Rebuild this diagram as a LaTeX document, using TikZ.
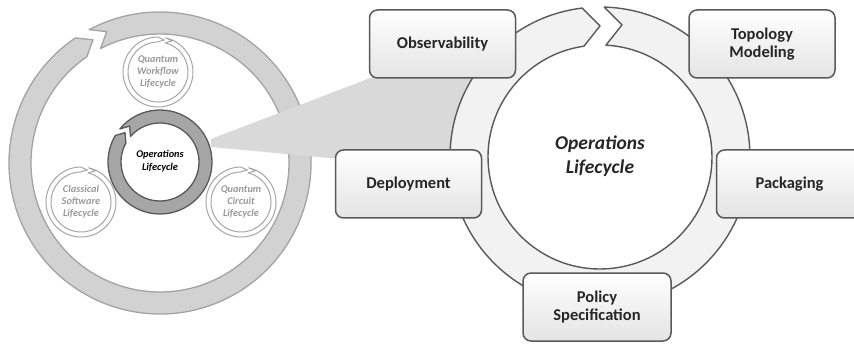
\documentclass[tikz,border=0pt]{standalone}
\usepackage{fontspec}
\setmainfont{Carlito}
\definecolor{ringL}{HTML}{D2D2D2}
\definecolor{ringLd}{HTML}{A3A3A3}
\definecolor{wedgec}{HTML}{D9D9D9}
\definecolor{darkring}{HTML}{A6A6A6}
\definecolor{darkedge}{HTML}{595959}
\definecolor{ringR}{HTML}{F2F2F2}
\definecolor{smalledge}{HTML}{A6A6A6}
\definecolor{boxbot}{HTML}{E4E4E4}
\definecolor{txt}{HTML}{262626}
\definecolor{graytxt}{HTML}{999999}
\newcommand{\cycring}[7]{% #1 center, #2 rot, #3 Rout, #4 Rin, #5 half gap, #6 chevron depth, #7 style
 \begin{scope}[shift={#1}, rotate=#2]
  \pgfmathsetmacro\cAto{90-asin(#5/#3)}
  \pgfmathsetmacro\cAti{90-asin(#5/#4)}
  \pgfmathsetmacro\cAho{90+asin(#5/#3)-360}
  \pgfmathsetmacro\cAhi{90+asin(#5/#4)-360}
  \pgfmathsetmacro\cRmid{(#3+#4)/2}
  \pgfmathsetmacro\cTip{-#5+#6}
  \pgfmathsetmacro\cNotch{#5+#6}
  \path[#7] (\cAto:#3) arc[start angle=\cAto, end angle=\cAho, radius=#3pt]
    -- (\cTip,\cRmid) -- (\cAhi:#4)
    arc[start angle=\cAhi, end angle=\cAti, radius=#4pt]
    -- (\cNotch,\cRmid) -- cycle;
 \end{scope}}
\tikzset{
  bigleft/.style={fill=ringL, draw=ringLd, line width=1.3pt, line join=round},
  darkcyc/.style={fill=darkring, draw=darkedge, line width=1.3pt, line join=round},
  smallcyc/.style={fill=white, draw=smalledge, line width=1pt, line join=round},
  bigright/.style={fill=ringR, draw=darkedge, line width=1.4pt, line join=round},
  stepbox/.style={rounded corners=8pt, draw=darkedge, line width=1.5pt,
    top color=white, bottom color=boxbot, minimum width=146pt, minimum height=68pt,
    align=center, text=txt, font=\fontsize{16.5}{18}\selectfont\bfseries},
  smalltxt/.style={align=center, text=graytxt, font=\fontsize{10.3}{12}\selectfont\bfseries\itshape},
}
\begin{document}
\begin{tikzpicture}[x=1pt,y=1pt]
\useasboundingbox (0,0) rectangle (854,343);
\clip (0,0) rectangle (854,343);
% left big ring
\cycring{(160,180)}{31}{151}{129}{8}{14}{bigleft}
% wedge
\fill[wedgec] (211,204) -- (480,307) -- (470,172) -- (211,196) -- cycle;
% small rings
\cycring{(160,181)}{55}{52}{39}{4}{8}{darkcyc}
\cycring{(158,271)}{-6}{35}{30}{4}{7}{smallcyc}
\cycring{(81,141)}{-6}{35}{30}{4}{7}{smallcyc}
\cycring{(241,141)}{-6}{35}{30}{4}{7}{smallcyc}
\node[smalltxt] (qw) at (158,271) {Quantum\\Workflow\\Lifecycle};
\node[smalltxt] (cs) at (81,141) {Classical\\Software\\Lifecycle};
\node[smalltxt] (qc) at (241,141) {Quantum\\Circuit\\Lifecycle};
\node[align=center, text=black, font=\fontsize{10.3}{12.5}\selectfont\bfseries\itshape] (ol) at (160,182) {Operations\\Lifecycle};
% right big ring
\cycring{(600,186)}{2.6}{150}{112}{11}{17}{bigright}
\node[align=center, text=txt, font=\fontsize{19.5}{24}\selectfont\bfseries\itshape] (orl) at (600,187) {Operations\\Lifecycle};
% boxes
\node[stepbox] (obs) at (442.5,299) {Observability};
\node[stepbox] (top) at (762,299) {Topology\\Modeling};
\node[stepbox] (dep) at (408.5,159) {Deployment};
\node[stepbox] (pac) at (789.5,159) {Packaging};
\node[stepbox, minimum width=148pt] (pol) at (597,36) {Policy\\Specification};
\end{tikzpicture}
\end{document}
